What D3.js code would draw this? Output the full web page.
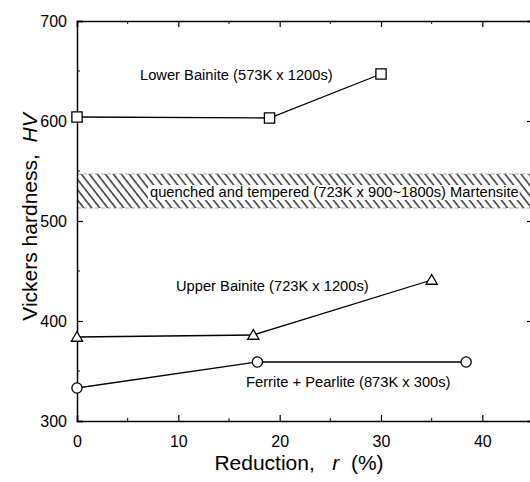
<!DOCTYPE html>
<html lang="en">
<head>
  <meta charset="UTF-8">
  <title>Vickers hardness vs reduction</title>
  <style>
    body {
      margin: 0;
      background-color: #fff;
    }
    svg {
      display: block;
      font-family: "Liberation Sans", Arial, sans-serif;
    }
    .note {
      font-size: 14.7px;
    }
  </style>
  <script src="https://d3js.org/d3.v7.min.js"></script>
</head>
<body>
  <svg width="530" height="482"></svg>

  <script>
    // data
    const lowerR = [0, 19, 30];
    const lowerHV = [604, 603, 647];
    const upperR = [0, 17.4, 35];
    const upperHV = [384, 386, 441];
    const fpR = [0, 17.8, 38.4];
    const fpHV = [333, 359, 359];
    const martensiteBand = [513, 547];
    const xTicks = [0, 10, 20, 30, 40];
    const yTicks = [300, 400, 500, 600, 700];

    const svg = d3.select("svg");
    const pLeft = 77, pTop = 21, pRight = 533, pBottom = 421;

    const x = d3.scaleLinear().domain([0, 45]).range([pLeft, pRight]);
    const y = d3.scaleLinear().domain([300, 700]).range([pBottom, pTop]);

    // hatch pattern for the martensite band
    const defs = svg.append("defs");
    defs.append("pattern")
      .attr("id", "hatch")
      .attr("patternUnits", "userSpaceOnUse")
      .attr("width", 6.3)
      .attr("height", 6.3)
      .attr("patternTransform", "rotate(-38)")
      .append("line")
      .attr("x1", 1).attr("y1", 0)
      .attr("x2", 1).attr("y2", 6.3)
      .attr("stroke", "#000")
      .attr("stroke-width", 1.2);

    svg.append("rect")
      .attr("x", x(0))
      .attr("y", y(martensiteBand[1]))
      .attr("width", x(45) - x(0))
      .attr("height", y(martensiteBand[0]) - y(martensiteBand[1]))
      .attr("fill", "url(#hatch)");

    svg.selectAll(".bandEdge")
      .data(martensiteBand)
      .enter().append("line")
      .attr("x1", x(0)).attr("x2", x(45))
      .attr("y1", d => y(d)).attr("y2", d => y(d))
      .attr("stroke", "#888")
      .attr("stroke-width", 0.7)
      .attr("stroke-dasharray", "4,2");

    const mText = svg.append("text")
      .attr("class", "note")
      .attr("x", 150)
      .attr("y", y(d3.mean(martensiteBand)) + 6)
      .text("quenched and tempered (723K x 900~1800s) Martensite");
    const bb = mText.node().getBBox();
    svg.insert("rect", "text.note")
      .attr("x", bb.x - 2).attr("y", bb.y + 1)
      .attr("width", bb.width + 3).attr("height", bb.height - 1)
      .attr("fill", "#fff");

    // axes, all ticks inward
    const xAxisB = d3.axisBottom(x).tickValues(xTicks).tickSize(-6).tickPadding(15).tickFormat(d3.format("d"));
    const xAxisT = d3.axisTop(x).tickValues(xTicks).tickSize(-6).tickFormat("");
    const yAxisL = d3.axisLeft(y).tickValues(yTicks).tickSize(-6).tickPadding(10);
    const yAxisR = d3.axisRight(y).tickValues(yTicks).tickSize(-6).tickFormat("");

    const minorX = d3.range(5, 45, 10);
    const minorY = d3.range(350, 700, 100);

    function styleAxis(g) {
      g.select(".domain").attr("stroke", "#000").attr("stroke-width", 1.5);
      g.selectAll(".tick line").attr("stroke", "#000").attr("stroke-width", 1.2);
      g.selectAll(".tick text").attr("font-size", 16).attr("fill", "#000")
        .attr("font-family", "Liberation Sans, Arial, sans-serif");
    }

    svg.append("g").attr("transform", `translate(0,${pBottom})`).call(xAxisB).call(styleAxis);
    svg.append("g").attr("transform", `translate(0,${pTop})`).call(xAxisT).call(styleAxis);
    svg.append("g").attr("transform", `translate(${pLeft},0)`).call(yAxisL).call(styleAxis);
    svg.append("g").attr("transform", `translate(${pRight},0)`).call(yAxisR).call(styleAxis);

    // minor ticks
    svg.selectAll(".mxb").data(minorX).enter().append("line")
      .attr("x1", d => x(d)).attr("x2", d => x(d))
      .attr("y1", pBottom).attr("y2", pBottom - 3)
      .attr("stroke", "#000");
    svg.selectAll(".mxt").data(minorX).enter().append("line")
      .attr("x1", d => x(d)).attr("x2", d => x(d))
      .attr("y1", pTop).attr("y2", pTop + 3)
      .attr("stroke", "#000");
    svg.selectAll(".myl").data(minorY).enter().append("line")
      .attr("x1", pLeft).attr("x2", pLeft + 3)
      .attr("y1", d => y(d)).attr("y2", d => y(d))
      .attr("stroke", "#000");
    svg.selectAll(".myr").data(minorY).enter().append("line")
      .attr("x1", pRight).attr("x2", pRight - 3)
      .attr("y1", d => y(d)).attr("y2", d => y(d))
      .attr("stroke", "#000");

    // series
    const line = d3.line().x(d => x(d[0])).y(d => y(d[1]));
    const series = [
      { r: lowerR, hv: lowerHV, shape: "square" },
      { r: upperR, hv: upperHV, shape: "triangle" },
      { r: fpR, hv: fpHV, shape: "circle" }
    ];

    series.forEach(s => {
      const pts = s.r.map((r, i) => [r, s.hv[i]]);
      svg.append("path")
        .datum(pts)
        .attr("d", line)
        .attr("fill", "none")
        .attr("stroke", "#000")
        .attr("stroke-width", 1.3);

      const sym = s.shape === "square" ? d3.symbolSquare
        : s.shape === "triangle" ? d3.symbolTriangle : d3.symbolCircle;
      const size = s.shape === "square" ? 105 : s.shape === "triangle" ? 55 : 82;
      svg.selectAll(null)
        .data(pts)
        .enter().append("path")
        .attr("d", d3.symbol().type(sym).size(size))
        .attr("transform", d => `translate(${x(d[0])},${y(d[1]) + (s.shape === "triangle" ? 1 : 0)})`)
        .attr("fill", "#fff")
        .attr("stroke", "#000")
        .attr("stroke-width", 1.3);
    });

    // series labels
    svg.append("text").attr("class", "note").attr("x", 140).attr("y", 80)
      .text("Lower Bainite (573K x 1200s)");
    svg.append("text").attr("class", "note").attr("x", 176).attr("y", 291)
      .text("Upper Bainite (723K x 1200s)");
    svg.append("text").attr("class", "note").attr("x", 246).attr("y", 387)
      .text("Ferrite + Pearlite (873K x 300s)");

    // axis titles
    const yTitle = svg.append("text")
      .attr("transform", `translate(37,${(pTop + pBottom) / 2 - 4}) rotate(-90)`)
      .attr("text-anchor", "middle")
      .attr("font-size", 21);
    yTitle.append("tspan").text("Vickers hardness,\u00a0\u00a0");
    yTitle.append("tspan").attr("font-style", "italic").text("HV");

    const xTitle = svg.append("text")
      .attr("x", 299)
      .attr("y", 470)
      .attr("text-anchor", "middle")
      .attr("font-size", 21);
    xTitle.append("tspan").text("Reduction,\u00a0\u00a0\u00a0");
    xTitle.append("tspan").attr("font-style", "italic").text("r");
    xTitle.append("tspan").text("\u00a0\u00a0(%)");
  </script>
</body>
</html>
